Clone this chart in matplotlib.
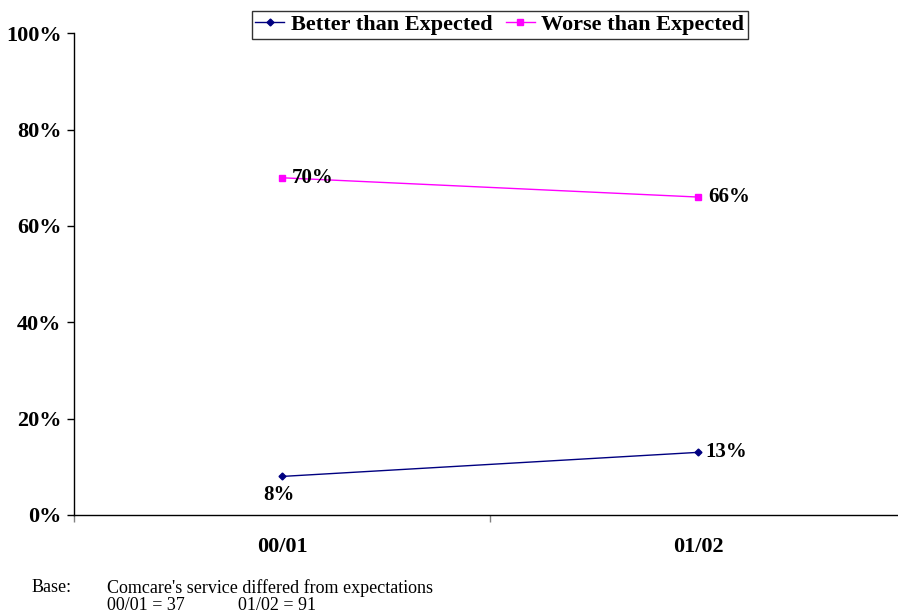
import matplotlib.pyplot as plt
from matplotlib.ticker import FixedLocator, NullFormatter

# data
periods = ["00/01", "01/02"]
better = [8, 13]
worse = [70, 66]
base_counts = [37, 91]

plt.rcParams['font.family'] = ['Liberation Serif', 'DejaVu Serif']

fig = plt.figure(figsize=(8.98, 6.16), dpi=100)
ax = fig.add_axes([0.0824, 0.164, 0.9266, 0.782])

x = list(range(len(periods)))
ax.plot(x, better, color='#000080', marker='D', markersize=3.5, linewidth=1,
        label='Better than Expected')
ax.plot(x, worse, color='#FF00FF', marker='s', markersize=4, linewidth=1,
        label='Worse than Expected')

# data labels
for i, v in enumerate(better):
    if i == 0:
        ax.annotate(f"{v}%", (i, v), xytext=(-2, -6), textcoords='offset points',
                    ha='center', va='top', fontsize=15, fontweight='bold')
    else:
        ax.annotate(f"{v}%", (i, v), xytext=(5, 0), textcoords='offset points',
                    ha='left', va='center', fontsize=15, fontweight='bold')
for i, v in enumerate(worse):
    ax.annotate(f"{v}%", (i, v), xytext=(7, 0), textcoords='offset points',
                ha='left', va='center', fontsize=15, fontweight='bold')

ax.set_xlim(-0.5, 1.5)
ax.set_ylim(0, 100)
ax.set_yticks(range(0, 101, 20))
ax.set_yticklabels([f"{t}%" for t in range(0, 101, 20)], fontsize=16,
                   fontweight='bold')
ax.tick_params(axis='y', direction='out', length=5, width=1, pad=4)

# category labels centred, ticks on boundaries
ax.xaxis.set_major_locator(FixedLocator([-0.5, 0.5, 1.5]))
ax.xaxis.set_major_formatter(NullFormatter())
ax.tick_params(axis='x', direction='out', length=5, width=1, color='#808080')
for i, p in enumerate(periods):
    ax.text(i, -32 / 482, p, transform=ax.get_xaxis_transform(), ha='center',
            va='center', fontsize=16, fontweight='bold')

for s in ['top', 'right']:
    ax.spines[s].set_visible(False)
ax.spines['left'].set_linewidth(1)
ax.spines['bottom'].set_linewidth(1)

leg = fig.legend(loc='center', bbox_to_anchor=(0.5565, 0.9595), ncol=2,
                 frameon=True, fancybox=False, edgecolor='black',
                 prop={'size': 16, 'weight': 'bold'}, handlelength=1.3,
                 handletextpad=0.3, columnspacing=0.6, borderpad=0.15,
                 borderaxespad=0)
leg.get_frame().set_linewidth(1)

# footnote
fig.text(32 / 898, 1 - 588 / 616, "Base:", fontsize=13, va='center')
fig.text(107 / 898, 1 - 588 / 616, "Comcare's service differed from expectations",
         fontsize=13, va='center')
fig.text(107 / 898, 1 - 606 / 616, f"{periods[0]} = {base_counts[0]}",
         fontsize=13, va='center')
fig.text(238 / 898, 1 - 606 / 616, f"{periods[1]} = {base_counts[1]}",
         fontsize=13, va='center')

fig.savefig("out.png", dpi=100)
